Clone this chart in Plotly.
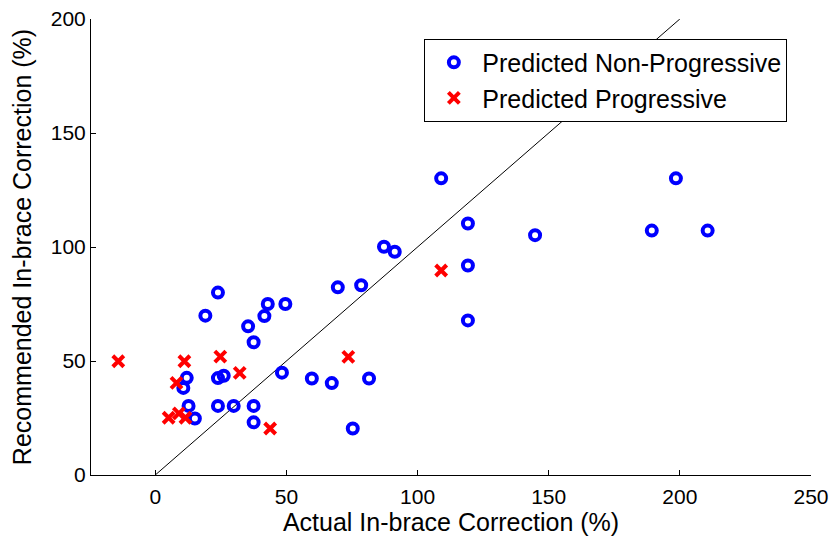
import plotly.graph_objects as go

# Predicted Non-Progressive (blue circles)
np_x = [109.0, 198.5, 119.2, 144.8, 189.3, 210.6, 119.2, 119.2, 87.2, 91.3,
        69.6, 78.5, 49.6, 42.9, 41.6, 35.4, 37.5, 23.9, 19.1, 48.3,
        59.7, 67.3, 81.5, 75.3, 12.0, 10.7, 23.9, 26.1, 12.7, 15.1,
        23.9, 29.9, 37.5, 37.5]
np_y = [130.1, 130.1, 110.3, 105.2, 107.2, 107.2, 91.9, 67.8, 100.1, 97.9,
        82.3, 83.2, 75.0, 75.0, 69.7, 65.2, 58.2, 80.0, 69.9, 44.9,
        42.3, 40.3, 42.3, 20.4, 42.6, 38.2, 42.5, 43.5, 30.3, 24.8,
        30.3, 30.3, 30.3, 23.1]

# Predicted Progressive (red crosses)
p_x = [-14.1, 11.1, 24.8, 32.2, 8.1, 5.1, 9.0, 11.5, 43.8, 73.6, 109.0]
p_y = [49.9, 49.9, 51.9, 44.8, 40.4, 25.1, 27.0, 25.1, 20.4, 51.8, 89.7]

# identity reference line
line_x = [0, 200]
line_y = [0, 200]

x_ticks = [0, 50, 100, 150, 200, 250]
y_ticks = [0, 50, 100, 150, 200]

font = "Liberation Sans, Arial, sans-serif"

fig = go.Figure()
fig.add_trace(go.Scatter(x=line_x, y=line_y, mode="lines",
                         line=dict(color="black", width=1), showlegend=False,
                         hoverinfo="skip"))
fig.add_trace(go.Scatter(x=np_x, y=np_y, mode="markers", name="Predicted Non-Progressive",
                         marker=dict(symbol="circle-open", size=10, color="#0000ff",
                                     line=dict(width=4, color="#0000ff"))))
fig.add_trace(go.Scatter(x=p_x, y=p_y, mode="markers", name="Predicted Progressive",
                         marker=dict(symbol="x-thin-open", size=11, color="#ff0000",
                                     line=dict(width=4, color="#ff0000"))))

fig.update_layout(
    width=832, height=538,
    margin=dict(l=91, r=21, t=19, b=63, autoexpand=False),
    paper_bgcolor="white", plot_bgcolor="white",
    font=dict(family=font, size=21, color="black"),
    legend=dict(x=0.463, y=0.957, xanchor="left", yanchor="top",
                bgcolor="white", bordercolor="black", borderwidth=1,
                itemwidth=47,
                font=dict(size=25, family=font), tracegroupgap=0),
    xaxis=dict(range=[-24.5, 250], tickvals=x_ticks, ticks="inside", ticklen=5,
               tickcolor="black", showline=True, linecolor="black", linewidth=1,
               showgrid=False, zeroline=False, mirror=False, automargin=False,
               ticklabelstandoff=3,
               title=dict(text="Actual In-brace Correction (%)", standoff=6),
               tickfont=dict(size=21)),
    yaxis=dict(range=[0, 200], tickvals=y_ticks, ticks="inside", ticklen=5,
               tickcolor="black", showline=True, linecolor="black", linewidth=1,
               showgrid=False, zeroline=False, mirror=False, automargin=False,
               title=dict(text="Recommended In-brace Correction (%)", standoff=12),
               tickfont=dict(size=21)),
)

fig.write_html("out.html")
